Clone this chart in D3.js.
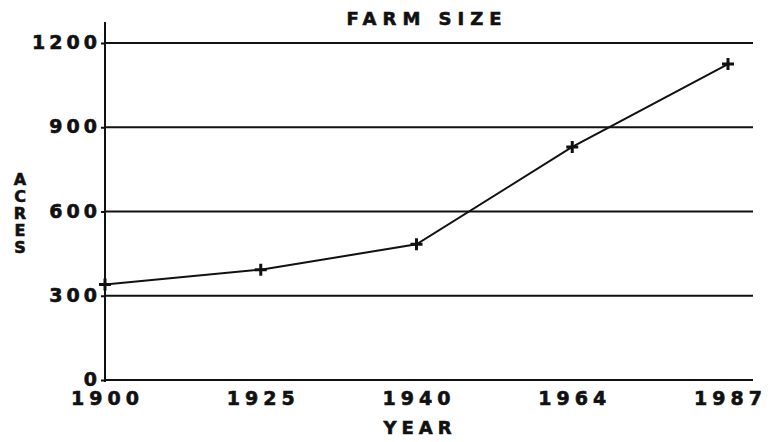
<!DOCTYPE html>
<html>
<head>
<meta charset="utf-8">
<script src="https://cdn.jsdelivr.net/npm/d3@7"></script>
<style>
  body { margin: 0; background: #fff; }
  text { font-family: "DejaVu Sans", sans-serif; font-weight: bold; fill: #111; stroke: #111; stroke-width: 0.6px; }
</style>
</head>
<body>
<div id="container"></div>
<script>

var years = ["1900", "1925", "1940", "1964", "1987"];
var acres = [340, 393, 483, 830, 1125];
var yTicks = [0, 300, 600, 900, 1200];
var title = "FARM SIZE";
var xTitle = "YEAR";
var yTitle = "ACRES";

function drawit() {
	var svg = d3.select("#container")
	   .append("svg")
	   .attr("width", 771)
	   .attr("height", 442);

	var x = d3.scalePoint().domain(years).range([105, 728]);
	var y = d3.scaleLinear().domain([0, 1200]).range([380, 43]);

	// gridlines
	svg.selectAll("grid")
	   .data(yTicks)
	   .enter()
	   .append("line")
	   .attr("x1", 105)
	   .attr("x2", 753)
	   .attr("y1", function(d) { return y(d) })
	   .attr("y2", function(d) { return y(d) })
	   .attr("stroke", "#111")
	   .attr("stroke-width", 2);

	// y axis
	var yAxis = svg.append("g")
	   .attr("transform", "translate(105,0)")
	   .call(d3.axisLeft(y).tickValues(yTicks).tickFormat(d3.format("d")).tickSize(4).tickPadding(0));
	yAxis.select(".domain").remove();
	yAxis.append("line")
	   .attr("y1", 22).attr("y2", 382)
	   .attr("stroke", "#111").attr("stroke-width", 2);
	yAxis.selectAll("line").attr("stroke", "#111").attr("stroke-width", 2);
	yAxis.selectAll("text")
	   .attr("fill", "#111")
	   .style("font-size", "19px")
	   .style("letter-spacing", "4px")
	   .style("font-family", "DejaVu Sans")
	   .attr("dy", "0.3em");

	// x axis labels
	var xAxis = svg.append("g")
	   .attr("transform", "translate(0,380)")
	   .call(d3.axisBottom(x).tickSize(0).tickPadding(12));
	xAxis.select(".domain").remove();
	xAxis.selectAll("text")
	   .attr("fill", "#111")
	   .style("font-size", "19px")
	   .style("letter-spacing", "5px")
	   .style("font-family", "DejaVu Sans")
	   .attr("dx", "2px");

	// data line
	var pts = years.map(function(d, i) { return [x(d), y(acres[i])] });
	svg.append("path")
	   .attr("d", d3.line()(pts))
	   .attr("fill", "none")
	   .attr("stroke", "#111")
	   .attr("stroke-width", 2);

	// markers
	svg.selectAll("marker")
	   .data(pts)
	   .enter()
	   .append("path")
	   .attr("d", function(p) {
	     return "M" + (p[0] - 6) + "," + p[1] + "h12M" + p[0] + "," + (p[1] - 6) + "v12";
	   })
	   .attr("stroke", "#111")
	   .attr("stroke-width", 3);

	// titles
	svg.append("text")
	   .attr("x", 427).attr("y", 25)
	   .attr("text-anchor", "middle")
	   .style("font-size", "18px")
	   .style("letter-spacing", "6px")
	   .text(title);

	svg.append("text")
	   .attr("x", 420).attr("y", 434)
	   .attr("text-anchor", "middle")
	   .style("font-size", "18px")
	   .style("letter-spacing", "5px")
	   .text(xTitle);

	svg.append("text")
	   .attr("x", 20)
	   .attr("y", 170)
	   .style("font-size", "16px")
	   .style("writing-mode", "vertical-rl")
	   .style("text-orientation", "upright")
	   .style("letter-spacing", "-2px")
	   .text(yTitle);
};

drawit();

</script>
</body>
</html>
